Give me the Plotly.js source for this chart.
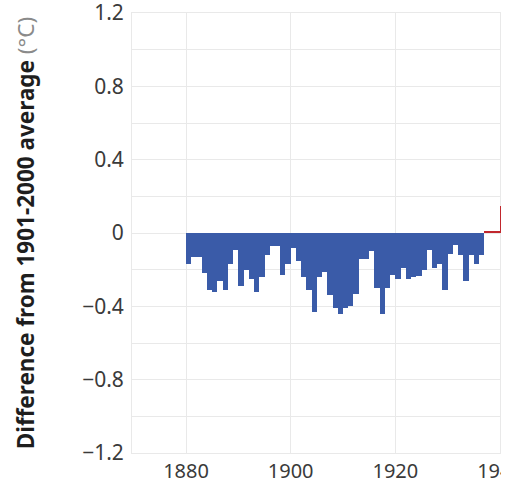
<!DOCTYPE html>
<html>
<head>
<meta charset="utf-8">
<script src="https://cdn.plot.ly/plotly-3.0.1.min.js"></script>
<style>
  html, body { margin: 0; padding: 0; background: #ffffff; }
  #wrap { width: 501px; height: 483px; overflow: hidden; position: relative; }
  #chart { width: 560px; height: 483px; }
</style>
</head>
<body>
<div id="wrap"><div id="chart"></div></div>
<script>
// Years shown (annual bars)
const years = [
  1880, 1881, 1882, 1883, 1884, 1885, 1886, 1887, 1888, 1889,
  1890, 1891, 1892, 1893, 1894, 1895, 1896, 1897, 1898, 1899,
  1900, 1901, 1902, 1903, 1904, 1905, 1906, 1907, 1908, 1909,
  1910, 1911, 1912, 1913, 1914, 1915, 1916, 1917, 1918, 1919,
  1920, 1921, 1922, 1923, 1924, 1925, 1926, 1927, 1928, 1929,
  1930, 1931, 1932, 1933, 1934, 1935, 1936, 1937, 1938, 1939,
  1940
];
// Difference from 1901-2000 average (°C)
const anomalies = [
  -0.17, -0.13, -0.13, -0.22, -0.31, -0.32, -0.26, -0.31, -0.17, -0.09,
  -0.29, -0.20, -0.25, -0.32, -0.24, -0.12, -0.07, -0.07, -0.23, -0.17,
  -0.08, -0.15, -0.24, -0.31, -0.43, -0.24, -0.21, -0.34, -0.41, -0.44,
  -0.41, -0.40, -0.33, -0.14, -0.14, -0.10, -0.30, -0.44, -0.30, -0.23,
  -0.25, -0.19, -0.25, -0.24, -0.235, -0.20, -0.09, -0.19, -0.17, -0.31,
  -0.115, -0.065, -0.12, -0.26, -0.12, -0.17, -0.12, 0.01, 0.01, 0.01,
  0.15
];
const yTickVals = [-1.2, -0.8, -0.4, 0, 0.4, 0.8, 1.2];
const yTickText = ["\u22121.2", "\u22120.8", "\u22120.4", "0", "0.4", "0.8", "1.2"];
const xTickVals = [1880, 1900, 1920, 1940];
const yTitle = "<b>Difference from 1901-2000 average</b> <span style=\"color:#8a8a8a;font-weight:normal\">(°C)</span>";

const BLUE = "#3a5ba8";
const RED = "#c1272d";
const colors = anomalies.map(v => (v > 0 ? RED : BLUE));

const trace = {
  type: "bar",
  x: years,
  y: anomalies,
  width: 1,
  offset: 0,
  marker: { color: colors, line: { width: 0 } },
  hoverinfo: "x+y"
};

const FONT = "Noto Sans, Open Sans, DejaVu Sans, sans-serif";
const GRID = "#e9e9e9";

const layout = {
  width: 560,
  height: 483,
  margin: { l: 132, r: 5, t: 13, b: 30 },
  paper_bgcolor: "#ffffff",
  plot_bgcolor: "#ffffff",
  showlegend: false,
  bargap: 0,
  font: { family: FONT, color: "#3a3a3a", size: 21 },
  xaxis: {
    range: [1869.68, 1950.51],
    tickvals: xTickVals,
    ticktext: xTickVals.map(String),
    showgrid: true,
    gridcolor: GRID,
    gridwidth: 1,
    zeroline: false,
    showline: true,
    mirror: true,
    linecolor: GRID,
    linewidth: 1,
    ticks: "",
    ticklabelstandoff: 0,
    ticklabeloverflow: "allow",
    tickfont: { family: FONT, size: 20, color: "#3a3a3a" },
    fixedrange: true
  },
  yaxis: {
    range: [-1.2, 1.2],
    tickvals: yTickVals,
    ticktext: yTickText,
    showgrid: true,
    gridcolor: GRID,
    gridwidth: 1,
    minor: { dtick: 0.2, tick0: 0, showgrid: true, gridcolor: GRID, gridwidth: 1 },
    zeroline: false,
    showline: true,
    linecolor: GRID,
    linewidth: 1,
    ticks: "",
    ticklabelstandoff: 3,
    ticklabeloverflow: "allow",
    tickfont: { family: FONT, size: 21, color: "#3a3a3a" },
    automargin: false,
    title: {
      text: yTitle,
      font: { family: FONT, size: 22.5, color: "#1e1e1e" },
      standoff: 41
    },
    fixedrange: true
  }
};

Plotly.newPlot("chart", [trace], layout, { displayModeBar: false, staticPlot: true });
</script>
</body>
</html>
